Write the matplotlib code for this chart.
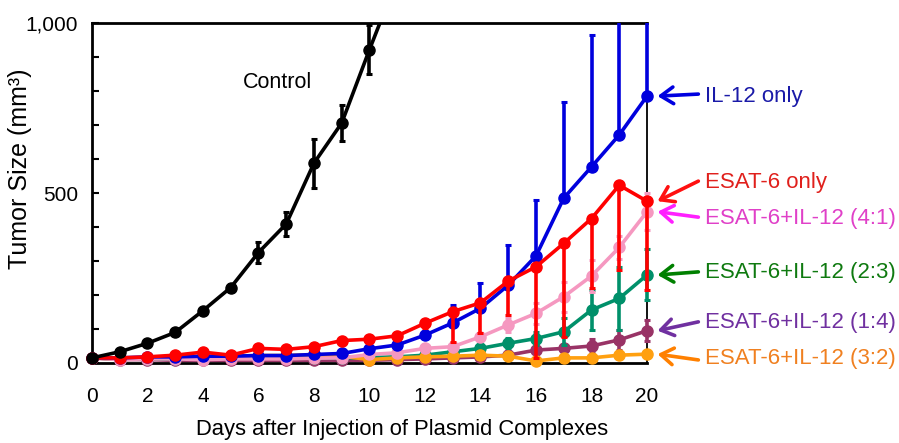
import numpy as np
import matplotlib
matplotlib.use("Agg")
import matplotlib.pyplot as plt
import matplotlib.patches as mpatches
from matplotlib.ticker import FixedLocator, MultipleLocator

plt.rcParams['font.family'] = ['Liberation Sans', 'DejaVu Sans']

days = list(range(21))

# tumour sizes (mm^3)
control = [15, 33, 58, 90, 154, 222, 325, 409, 588, 706, 922, 1130]
control_err = [0, 4, 5, 6, 8, 10, 30, 36, 72, 54, 72, 0]

il12 = [15, 15, 18, 18, 20, 20, 22, 22, 25, 28, 42, 53, 82, 118, 161, 229, 315, 485, 577, 671, 785]
il12_err = [0, 0, 0, 0, 0, 0, 0, 0, 0, 0, 5, 8, 10, 53, 74, 118, 165, 282, 388, 450, 400]

esat = [15, 15, 18, 23, 32, 23, 43, 40, 48, 66, 70, 80, 117, 151, 177, 241, 283, 352, 425, 523, 476]
esat_err = [0, 0, 0, 0, 0, 0, 5, 5, 5, 8, 8, 10, 15, 90, 88, 100, 268, 276, 203, 250, 262]

r41 = [15, 10, 12, 12, 10, 12, 12, 12, 14, 15, 25, 30, 43, 48, 77, 112, 146, 195, 256, 340, 445]
r41_err = [0, 0, 0, 0, 0, 0, 0, 0, 0, 0, 3, 5, 5, 8, 10, 20, 30, 44, 48, 35, 54]

r23 = [15, 12, 12, 12, 12, 14, 14, 15, 15, 15, 16, 18, 23, 33, 43, 58, 72, 92, 156, 190, 259]
r23_err = [0, 0, 0, 0, 0, 0, 0, 0, 0, 0, 0, 3, 4, 5, 8, 15, 20, 40, 60, 93, 75]

r14 = [15, 10, 10, 8, 8, 8, 8, 8, 8, 8, 8, 10, 12, 15, 18, 23, 38, 43, 50, 68, 95]
r14_err = [0, 0, 0, 0, 0, 0, 0, 0, 0, 0, 0, 0, 0, 3, 4, 5, 6, 10, 20, 30, 30]

r32 = [15, 12, 15, 15, 18, 20, 22, 22, 25, 20, 10, 15, 18, 20, 23, 20, 6, 15, 15, 23, 26]
r32_err = [0, 0, 0, 0, 0, 0, 0, 0, 0, 0, 0, 0, 2, 3, 3, 4, 4, 5, 5, 6, 6]

labels = ["IL-12 only", "ESAT-6 only", "ESAT-6+IL-12 (4:1)", "ESAT-6+IL-12 (2:3)",
          "ESAT-6+IL-12 (1:4)", "ESAT-6+IL-12 (3:2)"]
label_y = [785, 532, 424, 265, 118, 12]
arrow_start_y = [791, 535, 429, 268, 121, 9]
text_colors = ['#1a1aa8', '#e0201c', '#e040c8', '#0f7a10', '#7030a0', '#f08020']
arrow_colors = ['#0000e0', '#ff1010', '#ff20ff', '#008000', '#7030a0', '#ff8000']

fig = plt.figure(figsize=(8.99, 4.43), dpi=100)
ax = fig.add_axes([0.1023, 0.1806, 0.6174, 0.7674])

clip = mpatches.Rectangle((-0.05, -0.05), 1.1, 1.05, transform=ax.transAxes,
                          fill=False, visible=False)


def draw(y, err, color, z, mode="both"):
    x = days[:len(y)]
    err = np.array(err, dtype=float)
    zero = np.zeros_like(err)
    if mode == "up":
        yerr = [zero, err]
    elif mode == "down":
        yerr = [err, zero]
    else:
        yerr = [err, err]
    cont = ax.errorbar(x, y, yerr=yerr, color=color, lw=2.6, marker='o', ms=8,
                       elinewidth=2.6, capsize=2.5, capthick=2.2, zorder=z)
    line, caps, bars = cont.lines
    for art in [line, *caps, *bars]:
        art.set_clip_path(clip)


draw(r14, r14_err, '#993366', 3)
draw(r23, r23_err, '#00906a', 4)
draw(r32, r32_err, '#ffa010', 5)
draw(r41, r41_err, '#f598c0', 6)
draw(il12, il12_err, '#0000dd', 7, mode="up")
draw(esat, esat_err, '#ff0000', 8, mode="down")
draw(control, control_err, 'black', 9)

ax.set_xlim(0, 20)
ax.set_ylim(0, 1000)
ax.xaxis.set_major_locator(MultipleLocator(2))
ax.yaxis.set_major_locator(FixedLocator([0, 500, 1000]))
ax.yaxis.set_minor_locator(MultipleLocator(100))
ax.set_yticklabels(["0", "500", "1,000"])
ax.tick_params(axis='x', length=0, labelsize=15, pad=17)
ax.tick_params(axis='y', which='both', direction='in', length=5, width=1.5,
               labelsize=15, pad=10)
for side in ['left', 'bottom', 'top']:
    ax.spines[side].set_linewidth(2)
ax.spines['right'].set_linewidth(1.3)

ax.set_xlabel("Days after Injection of Plasmid Complexes", fontsize=15.8)
ax.xaxis.set_label_coords(0.559, -0.165)
ax.set_ylabel("Tumor Size (mm³)", fontsize=18)
ax.yaxis.set_label_coords(-0.108, 0.57)

ax.text(6.7, 826, "Control", fontsize=15.5, ha='center', va='center')

finals = [il12[-1], esat[-1], r41[-1], r23[-1], r14[-1], r32[-1]]
for lab, ly, ay, fy, tc, ac in zip(labels, label_y, arrow_start_y, finals,
                                   text_colors, arrow_colors):
    ax.annotate("", xy=(20.38, fy), xytext=(21.85, ay), annotation_clip=False,
                arrowprops=dict(arrowstyle='->,head_length=0.45,head_width=0.3',
                                mutation_scale=20, color=ac, lw=2.6,
                                shrinkA=0, shrinkB=0))
    ax.text(22.1, ly, lab, color=tc, fontsize=16, va='center', ha='left',
            clip_on=False)

fig.savefig("out.png", dpi=100)
